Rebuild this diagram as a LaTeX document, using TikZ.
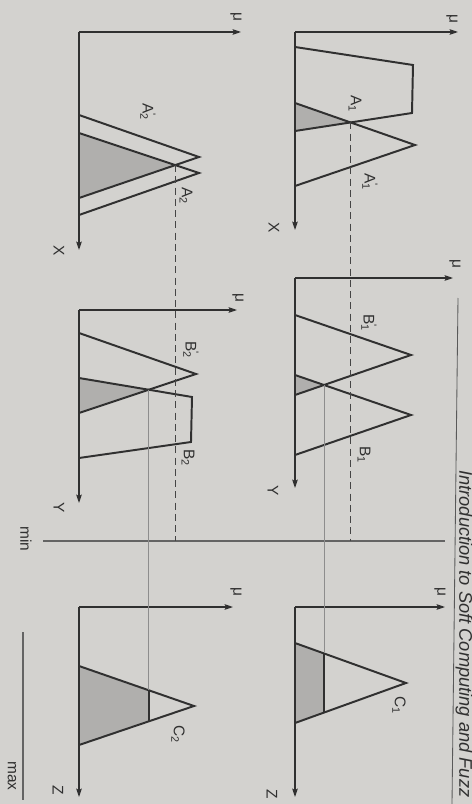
\documentclass[tikz,border=0pt]{standalone}
\usepackage{fontspec}
\setmainfont{Liberation Sans}
\definecolor{paper}{RGB}{211,210,207}
\definecolor{ink}{RGB}{48,48,48}
\definecolor{shade}{RGB}{176,175,173}
\usetikzlibrary{arrows.meta, intersections, positioning}
\newcommand{\fset}[2]{#1\textsubscript{#2}}
\newcommand{\fsetp}[2]{#1\rlap{\textsuperscript{\textquotesingle}}\textsubscript{#2}}
\tikzset{
	axisline/.style={
			draw=ink,
			line width=0.9pt,
			-{Stealth[length=6pt,width=4pt,inset=1pt]}
		},
	setline/.style={
			draw=ink,
			line width=1.4pt
		},
	cutline/.style={
			draw=ink,
			line width=1.4pt
		},
	areafill/.style={
			fill=shade,
			draw=none
		},
	projdash/.style={
			draw=ink!90,
			line width=1pt,
			dash pattern=on 5pt off 3pt
		},
	projline/.style={
			draw=ink!55,
			line width=0.6pt
		},
	guideline/.style={
			draw=ink!75,
			line width=0.8pt
		},
	rotlabel/.style={
			rotate=-90,
			inner sep=0pt,
			text=ink,
			font=\fontsize{11}{13}\selectfont
		}
}
\begin{document}
\begin{tikzpicture}[x=0.25mm, y=-0.25mm]
\useasboundingbox (0,0) rectangle (472,804);
\fill[paper] (0,0) rectangle (472,804);

% first rule, antecedent on X
\begin{scope}[shift={(295,32)}]
\path[name path=trapA1] (0,15) -- (118,33) -- (117,81) -- (0,99);
\path[name path=triA1] (0,71) -- (120,113) -- (0,154);
\path[name intersections={of=trapA1 and triA1, by=cutA1}];
\fill[areafill] (0,71) -- (cutA1) -- (0,99) -- cycle;
\draw[setline] (0,15) -- (118,33) -- (117,81) -- (0,99);
\draw[setline] (0,71) -- (120,113) -- (0,154);
\coordinate (oA1) at (0,0);
\coordinate (muA1) at (163,0);
\coordinate (xA1) at (0,198);
\draw[axisline] (oA1) -- (muA1);
\draw[axisline] (oA1) -- (xA1);
\node[rotlabel] (lmuA1) at (157,-13) {μ};
\node[rotlabel] (lxA1) at (-21,196) {X};
\node[rotlabel] (lA1) at (60,72) {\fset{A}{1}};
\node[rotlabel] (lA1p) at (75,150) {\fsetp{A}{1}};
\end{scope}

% second rule, antecedent on X
\begin{scope}[shift={(79,32)}]
\path[name path=triA2p] (0,83) -- (120,125) -- (0,166);
\path[name path=triA2] (0,101) -- (120,141) -- (0,183);
\path[name intersections={of=triA2p and triA2, by=cutA2}];
\fill[areafill] (0,101) -- (cutA2) -- (0,166) -- cycle;
\draw[setline] (0,83) -- (120,125) -- (0,166);
\draw[setline] (0,101) -- (120,141) -- (0,183);
\coordinate (oA2) at (0,0);
\coordinate (muA2) at (162,0);
\coordinate (xA2) at (0,218);
\draw[axisline] (oA2) -- (muA2);
\draw[axisline] (oA2) -- (xA2);
\node[rotlabel] (lmuA2) at (157,-15) {μ};
\node[rotlabel] (lxA2) at (-20,219) {X};
\node[rotlabel] (lA2p) at (69,80) {\fsetp{A}{2}};
\node[rotlabel] (lA2) at (107,164) {\fset{A}{2}};
\end{scope}

% first rule, antecedent on Y
\begin{scope}[shift={(295,278)}]
\path[name path=triB1p] (0,37) -- (116,77) -- (0,117);
\path[name path=triB1] (0,97) -- (116,137) -- (0,177);
\path[name intersections={of=triB1p and triB1, by=cutB1}];
\fill[areafill] (0,97) -- (cutB1) -- (0,117) -- cycle;
\draw[setline] (0,37) -- (116,77) -- (0,117);
\draw[setline] (0,97) -- (116,137) -- (0,177);
\coordinate (oB1) at (0,0);
\coordinate (muB1) at (158,0);
\coordinate (yB1) at (0,210);
\draw[axisline] (oB1) -- (muB1);
\draw[axisline] (oB1) -- (yB1);
\node[rotlabel] (lmuB1) at (160,-14) {μ};
\node[rotlabel] (lyB1) at (-22,213) {Y};
\node[rotlabel] (lB1p) at (74,45) {\fsetp{B}{1}};
\node[rotlabel] (lB1) at (69,177) {\fset{B}{1}};
\end{scope}

% second rule, antecedent on Y
\begin{scope}[shift={(79,310)}]
\path[name path=triB2p] (0,23) -- (117,64) -- (0,103);
\path[name path=trapB2] (0,68) -- (113,87) -- (112,132) -- (0,148);
\path[name intersections={of=triB2p and trapB2, by=cutB2}];
\fill[areafill] (0,68) -- (cutB2) -- (0,103) -- cycle;
\draw[setline] (0,23) -- (117,64) -- (0,103);
\draw[setline] (0,68) -- (113,87) -- (112,132) -- (0,148);
\coordinate (oB2) at (0,0);
\coordinate (muB2) at (158,0);
\coordinate (yB2) at (0,193);
\draw[axisline] (oB2) -- (muB2);
\draw[axisline] (oB2) -- (yB2);
\node[rotlabel] (lmuB2) at (159,-12) {μ};
\node[rotlabel] (lyB2) at (-20,198) {Y};
\node[rotlabel] (lB2p) at (112,40) {\fsetp{B}{2}};
\node[rotlabel] (lB2) at (109,148) {\fset{B}{2}};
\end{scope}

% first rule, consequent on Z
\begin{scope}[shift={(295,607)}]
\path[name path=triC1] (0,36) -- (111,76) -- (0,116);
\path[name path=dropB1] (cutB1) -- ++(0,400);
\path[name intersections={of=triC1 and dropB1, by={topC1,botC1}, sort by=dropB1}];
\fill[areafill] (0,36) -- (topC1) -- (botC1) -- (0,116) -- cycle;
\draw[setline] (0,36) -- (111,76) -- (0,116);
\draw[cutline] (topC1) -- (botC1);
\coordinate (oC1) at (0,0);
\coordinate (muC1) at (150,0);
\coordinate (zC1) at (0,190);
\draw[axisline] (oC1) -- (muC1);
\draw[axisline] (oC1) -- (zC1);
\node[rotlabel] (lmuC1) at (145,-15) {μ};
\node[rotlabel] (lzC1) at (-23,187) {Z};
\node[rotlabel] (lC1) at (104,98) {\fset{C}{1}};
\end{scope}

% second rule, consequent on Z
\begin{scope}[shift={(79,607)}]
\path[name path=triC2] (0,59) -- (115,99) -- (0,138);
\path[name path=dropB2] (cutB2) -- ++(0,400);
\path[name intersections={of=triC2 and dropB2, by={topC2,botC2}, sort by=dropB2}];
\fill[areafill] (0,59) -- (topC2) -- (botC2) -- (0,138) -- cycle;
\draw[setline] (0,59) -- (115,99) -- (0,138);
\draw[cutline] (topC2) -- (botC2);
\coordinate (oC2) at (0,0);
\coordinate (muC2) at (154,0);
\coordinate (zC2) at (0,190);
\draw[axisline] (oC2) -- (muC2);
\draw[axisline] (oC2) -- (zC2);
\node[rotlabel] (lmuC2) at (157,-15) {μ};
\node[rotlabel] (lzC2) at (-21,183) {Z};
\node[rotlabel] (lC2) at (99,127) {\fset{C}{2}};
\end{scope}

% min and max
\coordinate (minW) at (43,541);
\coordinate (minE) at (445,541);
\draw[guideline] (minW) -- (minE);
\node[rotlabel] (lmin) at (26,539) {min};
\coordinate (maxN) at (23,632);
\coordinate (maxS) at (23,800);
\draw[guideline] (maxN) -- (maxS);
\node[rotlabel] (lmax) at (12,776) {max};

% projections
\draw[projdash] (cutA1) -- (cutA1 |- minW);
\draw[projdash] (cutA2) -- (cutA2 |- minW);
\draw[projline] (cutB1) -- (topC1);
\draw[projline] (cutB2) -- (topC2);

% page header
\coordinate (ruleN) at (458,298);
\coordinate (ruleS) at (452,804);
\draw[draw=ink!80, line width=0.6pt] (ruleN) -- (ruleS);
\node[rotate=-90, anchor=west, inner sep=0pt, text=ink, font=\fontsize{13}{15}\selectfont\itshape] (hdr) at (464,470) {Introduction to Soft Computing and Fuzz};
\end{tikzpicture}
\end{document}
